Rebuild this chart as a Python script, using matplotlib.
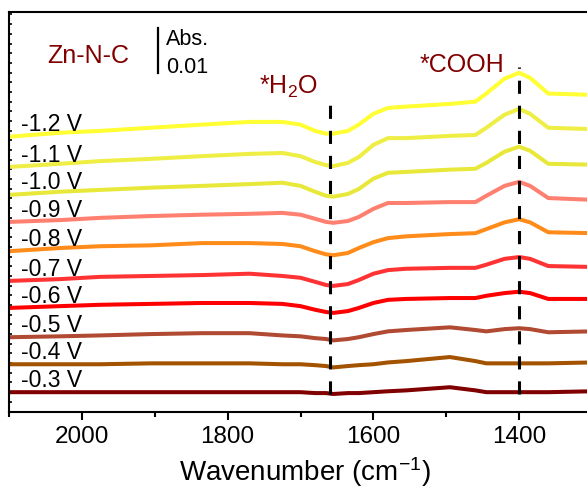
import numpy as np
import matplotlib
matplotlib.use("Agg")
import matplotlib.pyplot as plt
from matplotlib.ticker import MultipleLocator

plt.rcParams['font.family'] = ['Liberation Sans', 'DejaVu Sans']
plt.rcParams['mathtext.default'] = 'regular'

# wavenumber grid (cm-1) the spectra were read at
wavenumber = [2100, 2030, 1975, 1905, 1835, 1770, 1725, 1700, 1680, 1665, 1655, 1635,
              1620, 1600, 1580, 1555, 1495, 1460, 1445, 1420, 1400, 1385, 1360, 1300]

# absorbance change (mAbs) relative to 2100 cm-1, one list per potential
potentials = ['-0.3 V', '-0.4 V', '-0.5 V', '-0.6 V', '-0.7 V',
              '-0.8 V', '-0.9 V', '-1.0 V', '-1.1 V', '-1.2 V']
spec_03 = [0, 0, 0, 0, 0, 0, 0, 0, -0.2, -0.2, -0.4, -0.2,
           -0.2, 0, 0.2, 0.4, 1.1, 0.4, 0, 0, 0, 0, 0, 0.2]
spec_04 = [0, 0, 0, 0.2, 0.2, 0.2, 0, 0, -0.2, -0.4, -0.7, -0.4,
           -0.2, 0, 0.4, 0.7, 1.6, 0.7, 0.2, 0.2, 0.2, 0.2, 0.2, 0.4]
spec_05 = [0, 0.2, 0.4, 0.7, 0.9, 0.9, 0.4, 0.2, -0.2, -0.4, -0.7, -0.4,
           0, 0.7, 1.3, 1.6, 2.2, 1.6, 1.3, 1.8, 2.0, 1.8, 1.1, 1.3]
spec_06 = [0, 0.4, 0.7, 0.9, 1.1, 1.1, 0.9, 0.4, -0.4, -0.9, -1.1, -0.7,
           0, 1.1, 1.8, 2.0, 2.2, 2.2, 2.7, 3.3, 3.6, 3.3, 2.0, 2.0]
spec_07 = [0, 0.4, 0.9, 1.1, 1.3, 1.6, 1.1, 0.7, -0.2, -0.9, -1.1, -0.7,
           0.2, 1.6, 2.4, 2.7, 2.9, 2.9, 3.6, 4.9, 5.3, 4.9, 3.3, 3.1]
spec_08 = [0, 0.7, 1.1, 1.3, 1.8, 1.8, 1.6, 1.1, 0, -0.7, -0.9, -0.4,
           0.7, 2.0, 2.9, 3.3, 3.8, 4.0, 4.9, 6.4, 7.1, 6.4, 4.2, 4.0]
spec_09 = [0, 0.4, 0.9, 1.3, 1.6, 1.8, 2.0, 1.6, 0.7, 0, -0.2, 0.2,
           1.1, 2.9, 4.2, 4.2, 4.4, 4.4, 5.8, 8.0, 8.9, 8.0, 5.3, 4.9]
spec_10 = [0, 0.7, 1.1, 1.6, 2.0, 2.4, 2.7, 2.0, 0.7, -0.2, -0.4, 0.2,
           1.3, 3.6, 4.9, 5.1, 5.6, 5.8, 7.1, 9.6, 10.7, 9.8, 6.9, 6.7]
spec_11 = [0, 0.7, 1.3, 1.8, 2.4, 2.9, 3.1, 2.4, 1.1, 0.4, 0.2, 0.9,
           2.2, 4.9, 6.4, 6.4, 6.9, 7.1, 8.7, 11.6, 12.9, 11.8, 8.7, 8.4]
spec_12 = [0, 0.9, 1.3, 2.0, 2.7, 3.3, 3.3, 2.7, 1.3, 0.7, 0.7, 1.3,
           2.7, 5.1, 6.4, 6.7, 7.3, 7.8, 9.6, 12.9, 14.2, 13.1, 9.6, 9.3]
spectra = [spec_03, spec_04, spec_05, spec_06, spec_07,
           spec_08, spec_09, spec_10, spec_11, spec_12]

# vertical stacking offsets (mAbs)
offsets = [0, 6.2, 12.2, 18.7, 24.7, 31.3, 37.8, 43.8, 50.0, 56.7]

colors = ['#800000', '#A35200', '#B04A32', '#FF0000', '#FF3333',
          '#FF8C1A', '#FF8070', '#E8E83A', '#EEEE44', '#FFFF33']

fig = plt.figure(figsize=(5.87, 4.91), dpi=100)
ax = fig.add_axes([9 / 587, 79 / 491, 583 / 587, 400 / 491])

for spec, off, c, lab in zip(spectra, offsets, colors, potentials):
    y = np.array(spec) + off
    ax.plot(wavenumber, y, color=c, lw=2.9, solid_capstyle='round', solid_joinstyle='round')
    ax.text(2084, off + 1.2, lab, fontsize=16.5, ha='left', va='baseline')

# marker lines
ax.plot([1660, 1660], [-0.4, 64.9], color='black', lw=2.2, dashes=(4.3, 3.9))
ax.plot([1400, 1400], [-0.4, 72.2], color='black', lw=2.2, dashes=(4.3, 3.9))
ax.text(1757, 66.2, '*H$_2$O', color='#800000', fontsize=18, ha='left', va='baseline')
ax.text(1537, 71.0, '*COOH', color='#800000', fontsize=18, ha='left', va='baseline')

# sample name and scale bar
ax.text(2047, 73.1, 'Zn-N-C', color='#800000', fontsize=18, ha='left', va='baseline')
ax.plot([1896, 1896], [70.9, 80.9], color='black', lw=1.6)
ax.text(1884, 77.1, 'Abs.', fontsize=15.5, ha='left', va='baseline')
ax.text(1884, 70.9, '0.01', fontsize=15.5, ha='left', va='baseline')

ax.set_xlim(2100, 1300)
ax.set_ylim(-4.4, 84.4)
ax.xaxis.set_major_locator(MultipleLocator(200))
ax.xaxis.set_minor_locator(MultipleLocator(100))
ax.yaxis.set_major_locator(MultipleLocator(2.15))
ax.tick_params(axis='x', which='major', direction='out', length=6, width=1.5,
               labelsize=17.5, pad=4)
ax.tick_params(axis='x', which='minor', direction='out', length=3.5, width=1.5)
ax.tick_params(axis='y', which='major', direction='in', length=2, width=1.2, labelleft=False)
for s in ax.spines.values():
    s.set_linewidth(1.5)

fig.text(305 / 587, (491 - 472) / 491, 'Wavenumber (cm$^{-1}$)', fontsize=20,
         ha='center', va='center')

fig.savefig('out.png', dpi=100)
